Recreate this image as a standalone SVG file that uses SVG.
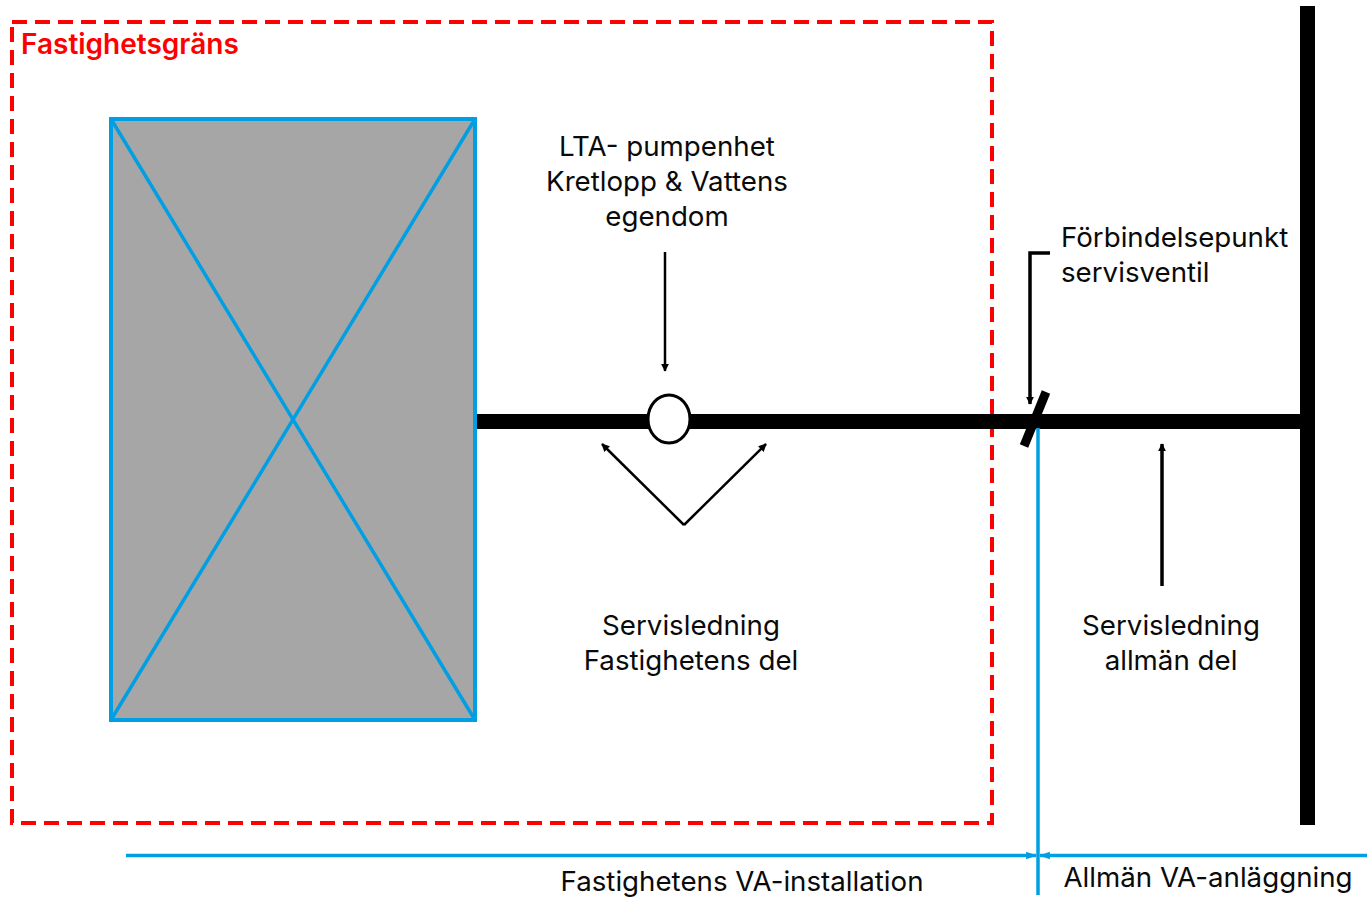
<svg xmlns="http://www.w3.org/2000/svg" width="1370" height="897" viewBox="0 0 1370 897">
<style>
text{font-family:"Inter","Liberation Sans",sans-serif;font-size:27.7px;fill:#0a0a0a;text-anchor:middle}
.l{text-anchor:start}
.blue{stroke:#009fe3;fill:none;stroke-width:3.5}
.thin{stroke:#000;fill:none;stroke-width:2.5}
.mid{stroke:#000;fill:none;stroke-width:3.5}
.pipe{stroke:#000;fill:none}
</style>
<defs>
<marker id="a" viewBox="0 0 10 10" refX="9" refY="5" markerWidth="8" markerHeight="8" markerUnits="userSpaceOnUse" orient="auto"><path d="M0 0L10 5L0 10z" fill="#000"/></marker>
<marker id="b" viewBox="0 0 10 10" refX="9" refY="5" markerWidth="11" markerHeight="11" markerUnits="userSpaceOnUse" orient="auto"><path d="M0 1.500L10 5L0 8.500z" fill="#009fe3"/></marker>
</defs>
<rect width="1370" height="897" fill="#fff"/>
<g id="fastighetsgrans">
<rect x="12" y="22" width="980" height="801" fill="none" stroke="#ff0000" stroke-width="4" stroke-dasharray="15 8"/>
<text class="l" x="21" y="54" style="fill:#ff0000;font-weight:600;font-size:28px">Fastighetsgräns</text>
</g>
<g id="byggnad">
<rect x="111" y="119" width="364" height="601" fill="#a6a6a6" stroke="#009fe3" stroke-width="4"/>
<path class="blue" d="M111 119L475 720M475 119L111 720"/>
</g>
<g id="huvudledning"><path class="pipe" stroke-width="15" d="M1307.500 6V825"/></g>
<g id="connectors">
<path class="pipe" stroke-width="15" d="M477 421.500H1307"/>
<path class="pipe" stroke-width="9" d="M1046 392L1024 446"/>
<path class="thin" marker-end="url(#a)" d="M665 252V371"/>
<path class="thin" marker-end="url(#a)" d="M684 525L602 444"/>
<path class="thin" marker-end="url(#a)" d="M684 525L766 444"/>
<path class="mid" marker-end="url(#a)" d="M1050 253H1030V404"/>
<path class="mid" marker-end="url(#a)" d="M1162 586V444"/>
<path class="blue" d="M1038 428V895"/>
<path class="blue" marker-end="url(#b)" d="M126 855.500H1036"/>
<path class="blue" marker-end="url(#b)" d="M1367 855.500H1040"/>
</g>
<g id="pumpenhet">
<ellipse cx="669" cy="419" rx="21" ry="24" fill="#fff" stroke="#000" stroke-width="3"/>
<text x="667" y="156">LTA- pumpenhet</text>
<text x="667" y="191">Kretlopp &amp; Vattens</text>
<text x="667" y="226">egendom</text>
</g>
<g id="forbindelsepunkt">
<text class="l" x="1061" y="247">Förbindelsepunkt</text>
<text class="l" x="1061" y="282">servisventil</text>
</g>
<g id="servis-fastighet">
<text x="691" y="635">Servisledning</text>
<text x="691" y="670">Fastighetens del</text>
</g>
<g id="servis-allman">
<text x="1171" y="635">Servisledning</text>
<text x="1171" y="670">allmän del</text>
</g>
<g id="installation"><text x="742" y="891">Fastighetens VA-installation</text></g>
<g id="anlaggning"><text x="1208" y="887">Allmän VA-anläggning</text></g>
</svg>
